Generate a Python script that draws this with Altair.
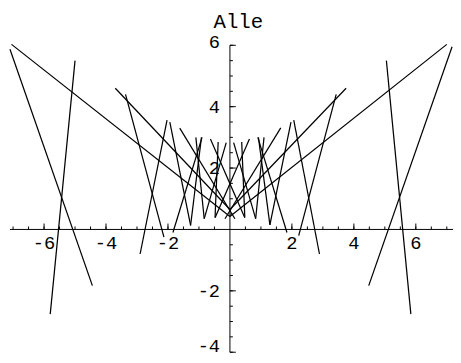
import altair as alt
import pandas as pd

# segment end points (data units): right half, then left half
x_start = [7.00, 7.17, 5.05, 3.75, 3.43, 2.06, 1.97, 0.92, 0.90, 1.64, 1.10, 0.63, 0.38, 0.12,
           -7.05, -7.10, -5.00, -3.70, -3.37, -2.03, -1.94, -0.92, -0.90, -1.62, -1.10, -0.63, -0.38, -0.12]
y_start = [6.03, 5.95, 5.50, 4.60, 4.40, 3.56, 3.50, 3.00, 3.00, 3.31, 3.00, 2.95, 2.85, 2.83,
           6.03, 5.87, 5.50, 4.60, 4.40, 3.56, 3.50, 3.00, 3.00, 3.30, 3.00, 2.95, 2.85, 2.83]
x_end = [0.00, 4.48, 5.84, 0.00, 2.22, 2.89, 1.29, 1.29, 1.84, -0.16, 0.83, -0.48, 0.48, 0.83,
         0.00, -4.44, -5.80, 0.00, -2.13, -2.90, -1.27, -1.27, -1.84, 0.16, -0.83, 0.48, -0.48, -0.83]
y_end = [0.42, -1.83, -2.76, 0.65, -0.20, -0.80, 0.15, 0.15, -0.10, 0.35, 0.35, 0.38, 0.40, 0.35,
         0.42, -1.83, -2.76, 0.65, -0.25, -0.80, 0.13, 0.13, -0.10, 0.35, 0.35, 0.38, 0.40, 0.35]

x_major = [-6, -4, -2, 2, 4, 6]
y_major = [-4, -2, 2, 4, 6]
x_minor = [v / 2 for v in range(-14, 15) if v != 0]
y_minor = [v / 2 for v in range(-8, 13) if v != 0]
x_labels = ["-6", "-4", "-2", "2", "4", "6"]
y_labels = ["-4", "-2", "2", "4", "6"]

XD = [-7.1, 7.2]
YD = [-4.1, 6.1]
FONT = "Liberation Mono"

xs = alt.Scale(domain=XD, nice=False, zero=False)
ys = alt.Scale(domain=YD, nice=False, zero=False)

segs = pd.DataFrame({"x": x_start, "y": y_start, "x2": x_end, "y2": y_end})
lines = alt.Chart(segs).mark_rule(color="black", strokeWidth=1.25).encode(
    x=alt.X("x:Q", scale=xs, axis=None),
    y=alt.Y("y:Q", scale=ys, axis=None),
    x2="x2:Q", y2="y2:Q")

axes_df = pd.DataFrame({"x": [XD[0], 0], "x2": [XD[1], 0], "y": [0, -4], "y2": [0, 6]})
axes = alt.Chart(axes_df).mark_rule(color="black", strokeWidth=1).encode(
    x=alt.X("x:Q", scale=xs, axis=None), y=alt.Y("y:Q", scale=ys, axis=None),
    x2="x2:Q", y2="y2:Q")


def xticks(vals, length):
    df = pd.DataFrame({"v": vals, "z": [0] * len(vals)})
    return alt.Chart(df).mark_rule(color="black", strokeWidth=1, y2Offset=-length).encode(
        x=alt.X("v:Q", scale=xs, axis=None), y=alt.Y("z:Q", scale=ys, axis=None), y2="z:Q")


def yticks(vals, length):
    df = pd.DataFrame({"v": vals, "z": [0] * len(vals)})
    return alt.Chart(df).mark_rule(color="black", strokeWidth=1, x2Offset=length).encode(
        y=alt.Y("v:Q", scale=ys, axis=None), x=alt.X("z:Q", scale=xs, axis=None), x2="z:Q")


xl_df = pd.DataFrame({"v": x_major, "t": x_labels, "z": [0] * len(x_major)})
xl = alt.Chart(xl_df).mark_text(
    font=FONT, fontSize=19, baseline="alphabetic", align="center", dy=20, color="black").encode(
    x=alt.X("v:Q", scale=xs, axis=None), y=alt.Y("z:Q", scale=ys, axis=None), text="t:N")

ydf = pd.DataFrame({"v": y_major, "t": y_labels, "z": [0] * len(y_major)})


def ylab(flt, baseline, dy):
    return alt.Chart(ydf).transform_filter(flt).mark_text(
        font=FONT, fontSize=19, baseline=baseline, align="right", dx=-10, dy=dy, color="black").encode(
        y=alt.Y("v:Q", scale=ys, axis=None), x=alt.X("z:Q", scale=xs, axis=None), text="t:N")


chart = alt.layer(
    lines, axes,
    xticks(x_minor, 3), xticks(x_major, 6),
    yticks(y_minor, 3), yticks(y_major, 6),
    xl,
    ylab("datum.v > -4 && datum.v < 6", "middle", 0),
    ylab("datum.v == 6", "alphabetic", 3),
    ylab("datum.v == -4", "alphabetic", 0),
).properties(
    width=450, height=318,
    padding={"left": 2, "top": 32, "right": 0, "bottom": 0},
    autosize=alt.AutoSizeParams(type="none"),
    title=alt.TitleParams(text="Alle", font=FONT, fontSize=21, fontWeight="normal",
                          anchor="middle", offset=2, dx=7, color="black"),
).configure_view(stroke=None)

chart.save("out.html", embed_options={"renderer": "svg", "actions": False})
